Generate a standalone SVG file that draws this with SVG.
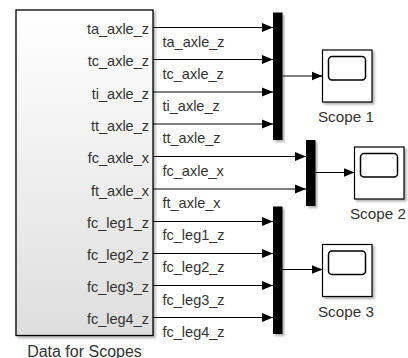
<svg xmlns="http://www.w3.org/2000/svg" width="408" height="358" viewBox="0 0 408 358">
<defs>
<linearGradient id="gfill" x1="0" y1="0" x2="0" y2="1">
<stop offset="0" stop-color="#ffffff"/>
<stop offset="1" stop-color="#dedede"/>
</linearGradient>
<filter id="sh" x="-10%" y="-10%" width="130%" height="130%">
<feDropShadow dx="2" dy="2" stdDeviation="1.3" flood-color="#000" flood-opacity="0.3"/>
</filter>
<marker id="arr" markerUnits="userSpaceOnUse" markerWidth="11" markerHeight="10" viewBox="0 0 11 10" refX="11" refY="5" orient="auto">
<path d="M0,0.5 L11,5 L0,9.5 z" fill="#000"/>
</marker>
</defs>
<style>
text{font-family:"Liberation Sans",Arial,Helvetica,sans-serif;fill:#333}
.port{font-size:14.5px;text-anchor:end}
.sig{font-size:14.5px}
.name{font-size:15.3px;text-anchor:middle}
.blk{stroke:#000;stroke-width:1.3}
.mux{fill:#000}
.scope{fill:#fff;stroke:#000;stroke-width:1.2}
.screen{fill:none;stroke:#000;stroke-width:1.5}
.wire{stroke:#000;stroke-width:1.2;fill:none;marker-end:url(#arr)}
</style>

<g id="data_for_scopes">
<rect class="blk" x="16" y="10" width="137" height="325.5" fill="url(#gfill)" filter="url(#sh)"/>
<text class="port" x="149" y="34">ta_axle_z</text>
<text class="port" x="149" y="66">tc_axle_z</text>
<text class="port" x="149" y="98.5">ti_axle_z</text>
<text class="port" x="149" y="130.5">tt_axle_z</text>
<text class="port" x="149" y="163">fc_axle_x</text>
<text class="port" x="149" y="195.5">ft_axle_x</text>
<text class="port" x="149" y="227.5">fc_leg1_z</text>
<text class="port" x="149" y="259.5">fc_leg2_z</text>
<text class="port" x="149" y="292">fc_leg3_z</text>
<text class="port" x="149" y="324">fc_leg4_z</text>
<text class="name" x="84.5" y="356.5" style="font-size:16px">Data for Scopes</text>
</g>

<g id="mux1"><rect class="mux" x="273" y="12.5" width="9.5" height="127.5" filter="url(#sh)"/></g>
<g id="mux2"><rect class="mux" x="306" y="140" width="9.5" height="66" filter="url(#sh)"/></g>
<g id="mux3"><rect class="mux" x="273" y="206.5" width="9.5" height="127.5" filter="url(#sh)"/></g>

<g id="scope1">
<rect class="scope" x="322.5" y="50" width="49.5" height="52" filter="url(#sh)"/>
<rect class="screen" x="328.5" y="56.5" width="37" height="23.5" rx="3.5"/>
<text class="name" x="346" y="122">Scope 1</text>
</g>
<g id="scope2">
<rect class="scope" x="354.5" y="147" width="49.5" height="52" filter="url(#sh)"/>
<rect class="screen" x="360.5" y="153.5" width="37" height="23.5" rx="3.5"/>
<text class="name" x="378" y="219">Scope 2</text>
</g>
<g id="scope3">
<rect class="scope" x="322.5" y="244.5" width="49.5" height="52" filter="url(#sh)"/>
<rect class="screen" x="328.5" y="251" width="37" height="23.5" rx="3.5"/>
<text class="name" x="346" y="316.5">Scope 3</text>
</g>

<g id="connectors">
<path class="wire" d="M153,27.5 H273"/>
<path class="wire" d="M153,59.5 H273"/>
<path class="wire" d="M153,92 H273"/>
<path class="wire" d="M153,124 H273"/>
<path class="wire" d="M153,156.5 H306"/>
<path class="wire" d="M153,189 H306"/>
<path class="wire" d="M153,221.5 H273"/>
<path class="wire" d="M153,253.5 H273"/>
<path class="wire" d="M153,285.5 H273"/>
<path class="wire" d="M153,317.5 H273"/>
<path class="wire" d="M282.5,76 H322.5"/>
<path class="wire" d="M315.5,172.5 H354.5"/>
<path class="wire" d="M282.5,269.5 H322.5"/>
<text class="sig" x="162.5" y="46.5">ta_axle_z</text>
<text class="sig" x="162.5" y="78.5">tc_axle_z</text>
<text class="sig" x="162.5" y="111">ti_axle_z</text>
<text class="sig" x="162.5" y="143">tt_axle_z</text>
<text class="sig" x="162.5" y="175.5">fc_axle_x</text>
<text class="sig" x="162.5" y="208">ft_axle_x</text>
<text class="sig" x="162.5" y="240">fc_leg1_z</text>
<text class="sig" x="162.5" y="272">fc_leg2_z</text>
<text class="sig" x="162.5" y="304.5">fc_leg3_z</text>
<text class="sig" x="162.5" y="336.5">fc_leg4_z</text>
</g>
</svg>
